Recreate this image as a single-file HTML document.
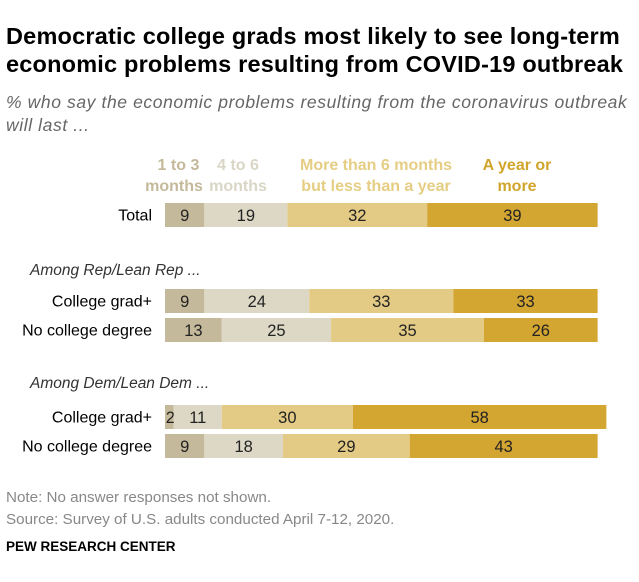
<!DOCTYPE html>
<html><head><meta charset="utf-8"><style>
body{margin:0;background:#fff;font-family:"Liberation Sans",sans-serif;}
#wrap{position:relative;width:639px;height:582px;overflow:hidden;}
.t{position:absolute;white-space:nowrap;}
.lg{position:absolute;white-space:nowrap;font-size:16px;font-weight:bold;line-height:21px;text-align:center;transform:translateX(-50%);}
</style></head><body>
<div id="wrap">
<div class="t" style="left:6px;top:22px;font-size:23.5px;font-weight:bold;line-height:28px;color:#000;letter-spacing:0.2px">Democratic college grads most likely to see long-term<br>economic problems resulting from COVID-19 outbreak</div>
<div class="t" style="left:6px;top:91px;font-size:17.5px;font-style:italic;line-height:23px;color:#666;letter-spacing:0.6px">% who say the economic problems resulting from the coronavirus outbreak<br>will last ...</div>
<div class="lg" style="left:174px;top:155px;color:#c5b99b">&nbsp;&nbsp;1 to 3<br>months</div>
<div class="lg" style="left:238px;top:155px;color:#d9d6c5">4 to 6<br>months</div>
<div class="lg" style="left:376px;top:155px;color:#e5cd83">More than 6 months<br>but less than a year</div>
<div class="lg" style="left:517px;top:155px;color:#d1a52c">A year or<br>more</div>
<div class="t" style="left:30px;top:262px;font-size:15.5px;font-style:italic;color:#333">Among Rep/Lean Rep ...</div>
<div class="t" style="left:30px;top:375px;font-size:15.5px;font-style:italic;color:#333">Among Dem/Lean Dem ...</div>
<svg id="bars" width="639" height="582" style="position:absolute;left:0;top:0"></svg>
<div class="t" style="left:6px;top:487px;font-size:15.2px;color:#888;line-height:22px">Note: No answer responses not shown.<br>Source: Survey of U.S. adults conducted April 7-12, 2020.</div>
<div class="t" style="left:6px;top:539px;font-size:13.5px;font-weight:bold;color:#000">PEW RESEARCH CENTER</div>
</div>
<script>
const rowLabels=["Total","College grad+","No college degree","College grad+","No college degree"];
const v13=[9,9,13,2,9];
const v46=[19,24,25,11,18];
const v612=[32,33,35,30,29];
const vYear=[39,33,26,58,43];
const rowY=[203,289,318,405,434];
const colors=["#c5b99b","#dcd8c5","#e3cb85","#d3a531"];
const segNames=["1-3-months","4-6-months","6-12-months","year-or-more"];
const x0=165, scale=4.37, h=24;
const xs=v=>v*scale;
const svg=document.getElementById('bars');
const NS="http://www.w3.org/2000/svg";
rowLabels.forEach((lab,i)=>{
  const vals=[v13[i],v46[i],v612[i],vYear[i]];
  const t=document.createElementNS(NS,'text');
  t.setAttribute('x',x0-13);t.setAttribute('y',rowY[i]+h/2+5.5);
  t.setAttribute('text-anchor','end');t.setAttribute('font-size','16');t.setAttribute('fill','#000');
  t.setAttribute('font-family','Liberation Sans, sans-serif');
  t.textContent=lab;
  
  
  svg.appendChild(t);
  let x=x0;
  vals.forEach((v,j)=>{
    const w=xs(v);
    const r=document.createElementNS(NS,'rect');
    r.setAttribute('x',x);r.setAttribute('y',rowY[i]);r.setAttribute('width',w);r.setAttribute('height',h);
    r.setAttribute('fill',colors[j]);
    
    
    svg.appendChild(r);
    const tv=document.createElementNS(NS,'text');
    tv.setAttribute('x',x+w/2+(v<4?1:0));tv.setAttribute('y',rowY[i]+h/2+6);
    tv.setAttribute('text-anchor','middle');tv.setAttribute('font-size','16.5');tv.setAttribute('fill','#222');
    tv.setAttribute('font-family','Liberation Sans, sans-serif');
    tv.textContent=v;
    
    
    svg.appendChild(tv);
    x+=w;
  });
});
</script>
</body></html>
